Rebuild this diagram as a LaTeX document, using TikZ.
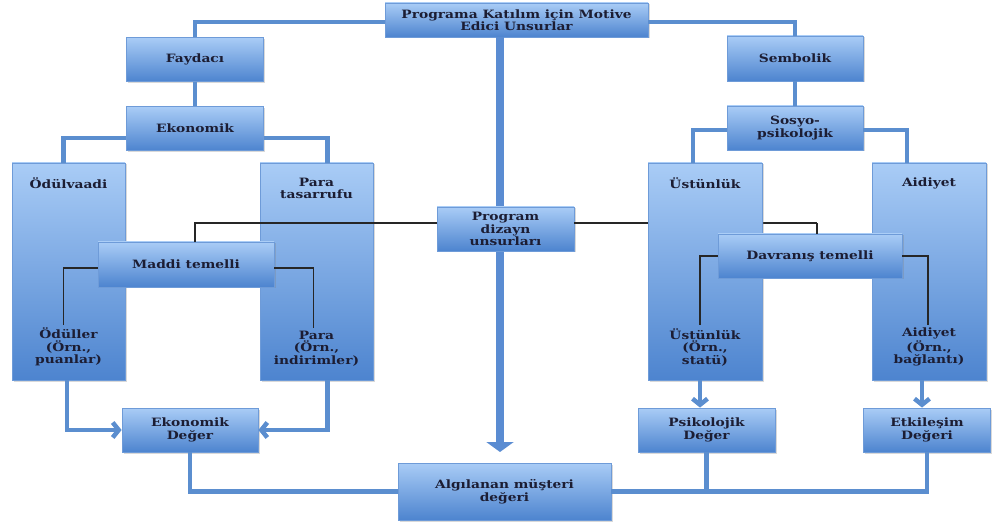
\documentclass[tikz,border=0pt]{standalone}
\usepackage{fontspec}
\setmainfont{DejaVu Serif}[FakeStretch=1.2]
\usetikzlibrary{arrows.meta,shadows}

\definecolor{boxtop}{HTML}{A9CCF6}
\definecolor{boxbot}{HTML}{4D84CF}
\definecolor{boxedge}{HTML}{6E9BD8}
\definecolor{linkblue}{HTML}{5B8ECF}
\definecolor{txtnavy}{HTML}{1C1D33}
\definecolor{shaftblue}{HTML}{5A8CD2}

\tikzset{
  box/.style={draw=boxedge, line width=0.8pt, top color=boxtop, bottom color=boxbot,
    minimum width=137pt, minimum height=44pt, inner sep=2pt, align=center,
    font=\fontsize{11.5}{12.5}\selectfont\bfseries, text=txtnavy,
    drop shadow={shadow xshift=1.5pt, shadow yshift=-1.5pt, opacity=0.3}},
  tallbox/.style={box, minimum width=113pt, minimum height=217pt},
  boxtext/.style={inner sep=3pt, align=center, text=txtnavy,
    font=\fontsize{11.5}{12.5}\selectfont\bfseries},
  conn/.style={draw=linkblue, line width=4.5pt},
  connarrow/.style={conn, -{Straight Barb[length=6pt,width=15pt]}},
  thin/.style={draw=black!85, line width=1.3pt},
  bigarrow/.style={draw=shaftblue, line width=8.5pt, -{Triangle[length=10pt,width=27pt]}}
}

\begin{document}
\begin{tikzpicture}[x=1pt,y=-1pt]
  \useasboundingbox (0,0) rectangle (995,526);

  % top of the tree
  \node[box, minimum width=263pt, minimum height=34pt] (motive) at (516.5,20)
    {Programa Katılım için Motive\\Edici Unsurlar};
  \node[box] (faydaci) at (195,59.5) {Faydacı};
  \node[box] (ekonomik) at (195,128.5) {Ekonomik};
  \node[box, minimum width=136pt, minimum height=45pt] (sembolik) at (795,58.5) {Sembolik};
  \node[box, minimum width=136pt] (sosyo) at (795,128) {Sosyo-\\psikolojik};

  \draw[conn] ([yshift=-2]motive.west) -| (faydaci.north);
  \draw[conn] ([yshift=-2]motive.east) -| (sembolik.north);
  \draw[conn] (faydaci) -- (ekonomik);
  \draw[conn] (sembolik) -- (sosyo);

  % big centre arrow, behind the design box
  \coordinate (shafttop) at (500,37);
  \coordinate (shaftend) at (500,452);
  \draw[bigarrow] (shafttop) -- (shaftend);

  % program design box and its right branch (runs behind the box)
  \node[box] (program) at (505.5,229) {Program\\dizayn\\unsurları};
  \coordinate (davtop) at (817,223);
  \draw[thin] ([yshift=6]program.east) -- (davtop);

  % tall boxes
  \node[tallbox] (odul) at (68.5,271.5) {};
  \node[tallbox] (para) at (316.5,271.5) {};
  \node[tallbox, minimum width=114pt] (ustun) at (705,271.5) {};
  \node[tallbox, minimum width=114pt] (aidiyet) at (929,271.5) {};

  \node[boxtext, anchor=north] (odultop) at ([yshift=-12]odul.north) {Ödülvaadi};
  \node[boxtext, anchor=north] (paratop) at ([yshift=-12]para.north) {Para\\tasarrufu};
  \node[boxtext, anchor=north] (ustuntop) at ([yshift=-12]ustun.north) {Üstünlük};
  \node[boxtext, anchor=north] (aidtop) at ([yshift=-12]aidiyet.north) {Aidiyet};

  \node[boxtext, anchor=south] (odulex) at ([yshift=11]odul.south) {Ödüller\\(Örn.,\\puanlar)};
  \node[boxtext, anchor=south] (paraex) at ([yshift=11]para.south) {Para\\(Örn.,\\indirimler)};
  \node[boxtext, anchor=south] (ustunex) at ([yshift=11]ustun.south) {Üstünlük\\(Örn.,\\statü)};
  \node[boxtext, anchor=south] (aidex) at ([yshift=11]aidiyet.south) {Aidiyet\\(Örn.,\\bağlantı)};

  \draw[conn] ([yshift=-9.5]ekonomik.west) -| ([xshift=-5]odul.north);
  \draw[conn] ([yshift=-9.5]ekonomik.east) -| ([xshift=11]para.north);
  \draw[conn] ([yshift=-2]sosyo.west) -| ([xshift=-12]ustun.north);
  \draw[conn] ([yshift=-2]sosyo.east) -| ([xshift=-22]aidiyet.north);

  % material / behavioural
  \node[box, minimum width=176pt, minimum height=45pt] (maddi) at (186,264.5) {Maddi temelli};
  \node[box, minimum width=184pt] (davranis) at (810,256) {Davranış temelli};

  \draw[thin] ([yshift=6]program.west) -| ([xshift=9]maddi.north);
  \draw[thin] (davtop) -- (davtop |- davranis.north);
  \draw[thin] ([yshift=-3.5]maddi.west) -| ([xshift=-5]odulex.north);
  \draw[thin] ([yshift=-3.5]maddi.east) -| ([xshift=-3]paraex.north);
  \draw[thin] (davranis.west) -| ([xshift=-5]ustunex.north);
  \draw[thin] (davranis.east) -| ([xshift=-1]aidex.north);

  % value boxes
  \node[box, minimum width=136pt] (ekdeger) at (190,430) {Ekonomik\\Değer};
  \node[box] (psiko) at (706.5,430) {Psikolojik\\Değer};
  \node[box, minimum width=127pt] (etki) at (927,430) {Etkileşim\\Değeri};
  \node[box, minimum width=213pt, minimum height=57pt] (algi) at (504.5,491.5)
    {Algılanan müşteri\\değeri};

  \draw[connarrow] ([xshift=-1.5]odul.south) |- (ekdeger.west);
  \draw[connarrow] ([xshift=11]para.south) |- (ekdeger.east);
  \draw[connarrow] ([xshift=-5]ustun.south) -- ([xshift=-5]ustun.south |- psiko.north);
  \draw[connarrow] ([xshift=-7]aidiyet.south) -- ([xshift=-7]aidiyet.south |- etki.north);

  \draw[conn] (ekdeger.south) |- (algi.west);
  \draw[conn] (algi.east) -| (etki.south);
  \draw[conn] (psiko.south) -- (psiko.south |- algi.east);
\end{tikzpicture}
\end{document}
